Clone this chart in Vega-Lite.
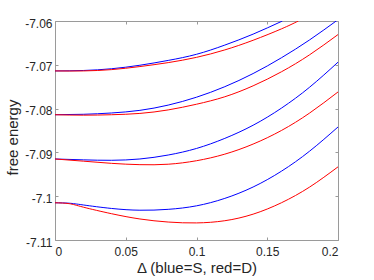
{
  "$schema": "https://vega.github.io/schema/vega-lite/v6.json",
  "width": 283,
  "height": 219,
  "autosize": "none",
  "padding": {"left": 55, "top": 21, "right": 36, "bottom": 40},
  "background": "white",
  "config": {
    "font": "Liberation Sans",
    "view": {"stroke": "#9a9a9a", "strokeWidth": 1},
    "axis": {"grid": false, "domain": false, "tickColor": "#9a9a9a", "tickSize": -3, "labelColor": "#262626", "labelFontSize": 12, "titleColor": "#262626", "titleFontSize": 15, "titleFontWeight": "normal"}
  },
  "data": {"values": [
    {"d":0,"f":-7.0714,"c":"S1","t":"S"},{"d":0.02,"f":-7.0713,"c":"S1","t":"S"},{"d":0.04,"f":-7.0709,"c":"S1","t":"S"},{"d":0.06,"f":-7.0701,"c":"S1","t":"S"},{"d":0.08,"f":-7.069,"c":"S1","t":"S"},{"d":0.1,"f":-7.0676,"c":"S1","t":"S"},{"d":0.12,"f":-7.0655,"c":"S1","t":"S"},{"d":0.14,"f":-7.063,"c":"S1","t":"S"},{"d":0.1607,"f":-7.06,"c":"S1","t":"S"},
    {"d":0,"f":-7.0714,"c":"D1","t":"D"},{"d":0.02,"f":-7.0714,"c":"D1","t":"D"},{"d":0.04,"f":-7.0711,"c":"D1","t":"D"},{"d":0.06,"f":-7.0704,"c":"D1","t":"D"},{"d":0.08,"f":-7.0695,"c":"D1","t":"D"},{"d":0.1,"f":-7.0683,"c":"D1","t":"D"},{"d":0.12,"f":-7.0666,"c":"D1","t":"D"},{"d":0.14,"f":-7.0644,"c":"D1","t":"D"},{"d":0.16,"f":-7.0618,"c":"D1","t":"D"},{"d":0.172,"f":-7.06,"c":"D1","t":"D"},
    {"d":0,"f":-7.0814,"c":"S2","t":"S"},{"d":0.02,"f":-7.0813,"c":"S2","t":"S"},{"d":0.04,"f":-7.081,"c":"S2","t":"S"},{"d":0.06,"f":-7.0804,"c":"S2","t":"S"},{"d":0.08,"f":-7.0792,"c":"S2","t":"S"},{"d":0.1,"f":-7.0774,"c":"S2","t":"S"},{"d":0.12,"f":-7.075,"c":"S2","t":"S"},{"d":0.14,"f":-7.072,"c":"S2","t":"S"},{"d":0.16,"f":-7.0684,"c":"S2","t":"S"},{"d":0.18,"f":-7.0643,"c":"S2","t":"S"},{"d":0.2,"f":-7.0597,"c":"S2","t":"S"},
    {"d":0,"f":-7.0814,"c":"D2","t":"D"},{"d":0.02,"f":-7.0815,"c":"D2","t":"D"},{"d":0.04,"f":-7.0814,"c":"D2","t":"D"},{"d":0.06,"f":-7.0811,"c":"D2","t":"D"},{"d":0.08,"f":-7.0803,"c":"D2","t":"D"},{"d":0.1,"f":-7.079,"c":"D2","t":"D"},{"d":0.12,"f":-7.0773,"c":"D2","t":"D"},{"d":0.14,"f":-7.0748,"c":"D2","t":"D"},{"d":0.16,"f":-7.0716,"c":"D2","t":"D"},{"d":0.18,"f":-7.0677,"c":"D2","t":"D"},{"d":0.2,"f":-7.0631,"c":"D2","t":"D"},
    {"d":0,"f":-7.0915,"c":"S3","t":"S"},{"d":0.02,"f":-7.0917,"c":"S3","t":"S"},{"d":0.04,"f":-7.0918,"c":"S3","t":"S"},{"d":0.06,"f":-7.0915,"c":"S3","t":"S"},{"d":0.08,"f":-7.0906,"c":"S3","t":"S"},{"d":0.1,"f":-7.0891,"c":"S3","t":"S"},{"d":0.12,"f":-7.0868,"c":"S3","t":"S"},{"d":0.14,"f":-7.0838,"c":"S3","t":"S"},{"d":0.16,"f":-7.0799,"c":"S3","t":"S"},{"d":0.18,"f":-7.0751,"c":"S3","t":"S"},{"d":0.2,"f":-7.0694,"c":"S3","t":"S"},
    {"d":0,"f":-7.0915,"c":"D3","t":"D"},{"d":0.02,"f":-7.092,"c":"D3","t":"D"},{"d":0.04,"f":-7.0925,"c":"D3","t":"D"},{"d":0.06,"f":-7.0928,"c":"D3","t":"D"},{"d":0.08,"f":-7.0927,"c":"D3","t":"D"},{"d":0.1,"f":-7.0919,"c":"D3","t":"D"},{"d":0.12,"f":-7.0904,"c":"D3","t":"D"},{"d":0.14,"f":-7.0881,"c":"D3","t":"D"},{"d":0.16,"f":-7.085,"c":"D3","t":"D"},{"d":0.18,"f":-7.081,"c":"D3","t":"D"},{"d":0.2,"f":-7.0762,"c":"D3","t":"D"},
    {"d":0,"f":-7.1015,"c":"S4","t":"S"},{"d":0.01,"f":-7.1016,"c":"S4","t":"S"},{"d":0.02,"f":-7.102,"c":"S4","t":"S"},{"d":0.04,"f":-7.1028,"c":"S4","t":"S"},{"d":0.06,"f":-7.1032,"c":"S4","t":"S"},{"d":0.08,"f":-7.103,"c":"S4","t":"S"},{"d":0.1,"f":-7.1022,"c":"S4","t":"S"},{"d":0.12,"f":-7.1005,"c":"S4","t":"S"},{"d":0.14,"f":-7.0979,"c":"S4","t":"S"},{"d":0.16,"f":-7.0943,"c":"S4","t":"S"},{"d":0.18,"f":-7.0897,"c":"S4","t":"S"},{"d":0.2,"f":-7.0842,"c":"S4","t":"S"},
    {"d":0,"f":-7.1015,"c":"D4","t":"D"},{"d":0.01,"f":-7.1017,"c":"D4","t":"D"},{"d":0.02,"f":-7.1025,"c":"D4","t":"D"},{"d":0.04,"f":-7.104,"c":"D4","t":"D"},{"d":0.06,"f":-7.1052,"c":"D4","t":"D"},{"d":0.08,"f":-7.1059,"c":"D4","t":"D"},{"d":0.1,"f":-7.1061,"c":"D4","t":"D"},{"d":0.12,"f":-7.1056,"c":"D4","t":"D"},{"d":0.14,"f":-7.1041,"c":"D4","t":"D"},{"d":0.16,"f":-7.1015,"c":"D4","t":"D"},{"d":0.18,"f":-7.0979,"c":"D4","t":"D"},{"d":0.2,"f":-7.0933,"c":"D4","t":"D"}
  ]},
  "layer": [
    {
      "mark": {"type": "line", "strokeWidth": 1, "interpolate": "natural", "clip": true},
      "encoding": {
        "x": {"field": "d", "type": "quantitative", "scale": {"domain": [0, 0.2], "nice": false},
              "axis": {"values": [0, 0.05, 0.1, 0.15, 0.2], "format": "~g", "title": "Δ (blue=S, red=D)", "labelPadding": 9, "titlePadding": 3}},
        "y": {"field": "f", "type": "quantitative", "scale": {"domain": [-7.11, -7.06], "nice": false, "zero": false},
              "axis": {"values": [-7.11, -7.1, -7.09, -7.08, -7.07, -7.06], "format": "~g", "labelExpr": "replace(datum.label, '\u2212', '-')", "title": "free energy", "labelPadding": 6, "labelOffset": 2, "titlePadding": 4, "titleY": 116}},
        "color": {"field": "t", "type": "nominal", "scale": {"domain": ["S", "D"], "range": ["#0000ff", "#ff0000"]}, "legend": null},
        "detail": {"field": "c"}
      }
    },
    {
      "mark": {"type": "line", "opacity": 0},
      "encoding": {
        "x": {"field": "d", "type": "quantitative", "axis": {"orient": "top", "values": [0, 0.05, 0.1, 0.15, 0.2], "labels": false, "title": null}},
        "y": {"field": "f", "type": "quantitative", "axis": {"orient": "right", "values": [-7.11, -7.1, -7.09, -7.08, -7.07, -7.06], "labels": false, "title": null}},
        "detail": {"field": "c"}
      }
    }
  ],
  "resolve": {"axis": {"x": "independent", "y": "independent"}}
}
